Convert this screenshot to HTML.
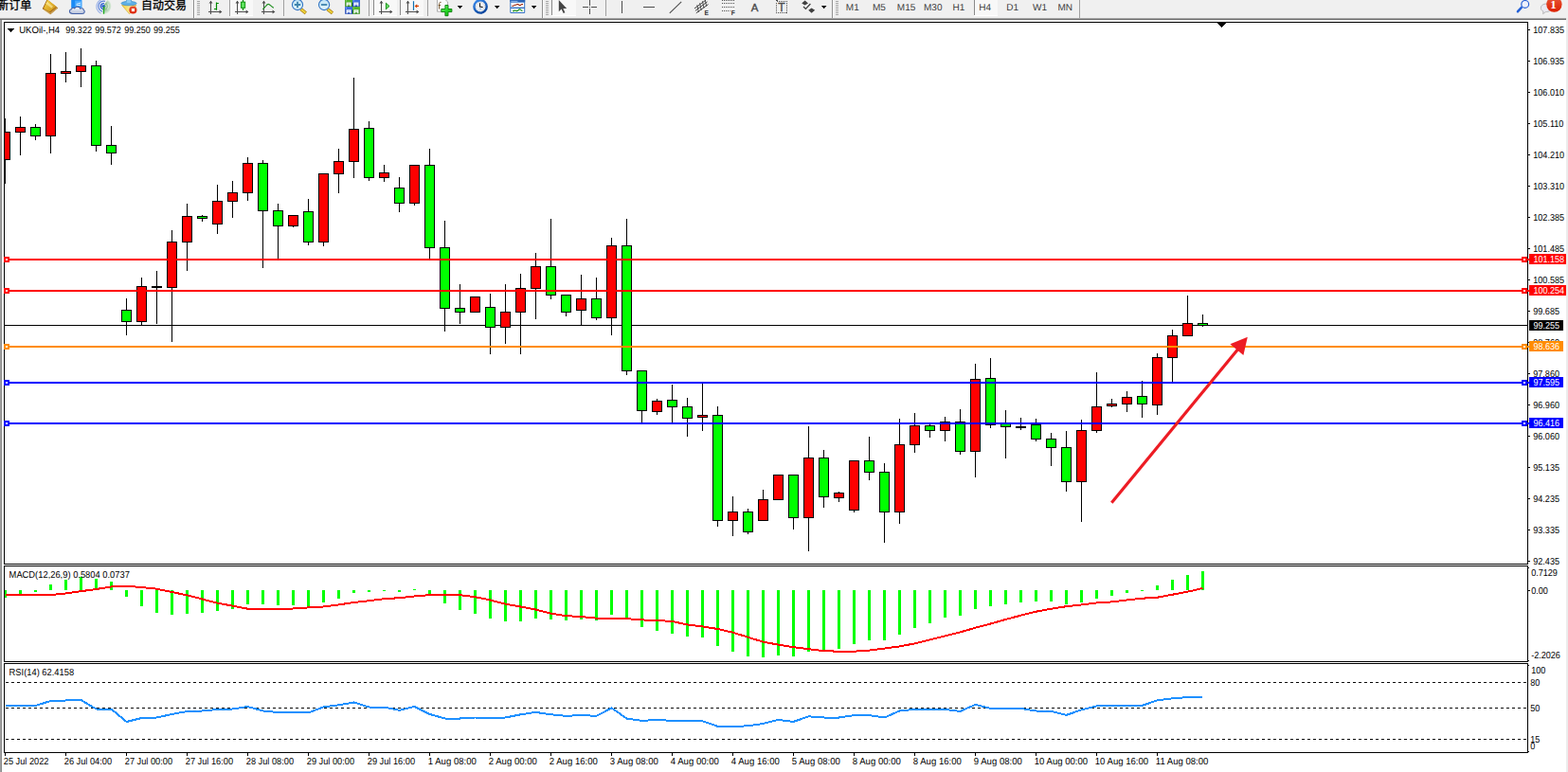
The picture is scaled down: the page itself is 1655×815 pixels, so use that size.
<!DOCTYPE html>
<html><head><meta charset="utf-8"><title>UKOil-,H4</title>
<style>
html,body{margin:0;padding:0;background:#fff;}
body{width:1655px;height:815px;overflow:hidden;position:relative;font-family:"Liberation Sans",sans-serif;}
#tb{position:absolute;left:0;top:0;width:1655px;height:19px;background:#f0f0f0;}
#sh{position:absolute;left:0;top:18px;width:1653px;height:3px;background:linear-gradient(#eeeeee 0,#eeeeee 33.3%,#a6a6a6 33.3%,#a6a6a6 66.6%,#6b6b6b 66.6%);}
#lb{position:absolute;left:0;top:21px;width:2px;height:794px;background:linear-gradient(90deg,#ababab,#808080);}
#rb{position:absolute;left:1653px;top:19px;width:2px;height:796px;background:#ececec;}
svg{position:absolute;left:0;top:0;}
.t{font-family:"Liberation Sans",sans-serif;font-size:10.1px;text-rendering:geometricPrecision;}
</style></head>
<body>
<div id="tb"></div><div id="sh"></div><div id="lb"></div><div id="rb"></div>
<svg width="1655" height="815" viewBox="0 0 1655 815" shape-rendering="crispEdges">
<rect x="4" y="23" width="1609" height="1" fill="#000"/>
<rect x="4" y="595" width="1609" height="1" fill="#000"/>
<rect x="4" y="597" width="1609" height="1" fill="#000"/>
<rect x="4" y="698" width="1609" height="1" fill="#000"/>
<rect x="4" y="700" width="1609" height="1" fill="#000"/>
<rect x="4" y="794" width="1609" height="1" fill="#000"/>
<rect x="4" y="23" width="1" height="573" fill="#000"/>
<rect x="1612" y="23" width="1" height="573" fill="#000"/>
<rect x="4" y="597" width="1" height="102" fill="#000"/>
<rect x="1612" y="597" width="1" height="102" fill="#000"/>
<rect x="4" y="700" width="1" height="95" fill="#000"/>
<rect x="1612" y="700" width="1" height="95" fill="#000"/>
<rect x="1285" y="24" width="9" height="1" fill="#000"/>
<rect x="1286" y="25" width="7" height="1" fill="#000"/>
<rect x="1287" y="26" width="5" height="1" fill="#000"/>
<rect x="1288" y="27" width="3" height="1" fill="#000"/>
<rect x="1289" y="28" width="1" height="1" fill="#000"/>
<rect x="5" y="343" width="1607" height="1" fill="#000"/>
<rect x="5" y="125" width="1" height="69" fill="#000"/>
<rect x="5" y="139" width="6" height="30" fill="#000"/>
<rect x="5" y="140" width="5" height="28" fill="#ff0000"/>
<rect x="21" y="123" width="1" height="41" fill="#000"/>
<rect x="16" y="134" width="11" height="6" fill="#000"/>
<rect x="17" y="135" width="9" height="4" fill="#ff0000"/>
<rect x="37" y="131" width="1" height="17" fill="#000"/>
<rect x="32" y="134" width="11" height="10" fill="#000"/>
<rect x="33" y="135" width="9" height="8" fill="#00ff00"/>
<rect x="53" y="57" width="1" height="105" fill="#000"/>
<rect x="48" y="77" width="11" height="67" fill="#000"/>
<rect x="49" y="78" width="9" height="65" fill="#ff0000"/>
<rect x="69" y="55" width="1" height="32" fill="#000"/>
<rect x="64" y="75" width="11" height="3" fill="#000"/>
<rect x="65" y="76" width="9" height="1" fill="#ff0000"/>
<rect x="85" y="51" width="1" height="41" fill="#000"/>
<rect x="80" y="69" width="11" height="7" fill="#000"/>
<rect x="81" y="70" width="9" height="5" fill="#ff0000"/>
<rect x="101" y="64" width="1" height="96" fill="#000"/>
<rect x="96" y="69" width="11" height="85" fill="#000"/>
<rect x="97" y="70" width="9" height="83" fill="#00ff00"/>
<rect x="117" y="133" width="1" height="41" fill="#000"/>
<rect x="112" y="153" width="11" height="9" fill="#000"/>
<rect x="113" y="154" width="9" height="7" fill="#00ff00"/>
<rect x="133" y="315" width="1" height="39" fill="#000"/>
<rect x="128" y="327" width="11" height="13" fill="#000"/>
<rect x="129" y="328" width="9" height="11" fill="#00ff00"/>
<rect x="149" y="293" width="1" height="50" fill="#000"/>
<rect x="144" y="302" width="11" height="38" fill="#000"/>
<rect x="145" y="303" width="9" height="36" fill="#ff0000"/>
<rect x="165" y="286" width="1" height="56" fill="#000"/>
<rect x="160" y="302" width="11" height="2" fill="#000"/>
<rect x="181" y="243" width="1" height="118" fill="#000"/>
<rect x="176" y="255" width="11" height="49" fill="#000"/>
<rect x="177" y="256" width="9" height="47" fill="#ff0000"/>
<rect x="197" y="215" width="1" height="71" fill="#000"/>
<rect x="192" y="228" width="11" height="28" fill="#000"/>
<rect x="193" y="229" width="9" height="26" fill="#ff0000"/>
<rect x="213" y="227" width="1" height="7" fill="#000"/>
<rect x="208" y="228" width="11" height="3" fill="#000"/>
<rect x="209" y="229" width="9" height="1" fill="#00ff00"/>
<rect x="229" y="195" width="1" height="52" fill="#000"/>
<rect x="224" y="212" width="11" height="25" fill="#000"/>
<rect x="225" y="213" width="9" height="23" fill="#ff0000"/>
<rect x="245" y="191" width="1" height="39" fill="#000"/>
<rect x="240" y="203" width="11" height="10" fill="#000"/>
<rect x="241" y="204" width="9" height="8" fill="#ff0000"/>
<rect x="261" y="166" width="1" height="46" fill="#000"/>
<rect x="256" y="172" width="11" height="32" fill="#000"/>
<rect x="257" y="173" width="9" height="30" fill="#ff0000"/>
<rect x="277" y="169" width="1" height="114" fill="#000"/>
<rect x="272" y="172" width="11" height="51" fill="#000"/>
<rect x="273" y="173" width="9" height="49" fill="#00ff00"/>
<rect x="293" y="215" width="1" height="59" fill="#000"/>
<rect x="288" y="222" width="11" height="17" fill="#000"/>
<rect x="289" y="223" width="9" height="15" fill="#00ff00"/>
<rect x="309" y="227" width="1" height="13" fill="#000"/>
<rect x="304" y="227" width="11" height="12" fill="#000"/>
<rect x="305" y="228" width="9" height="10" fill="#ff0000"/>
<rect x="325" y="210" width="1" height="49" fill="#000"/>
<rect x="320" y="223" width="11" height="33" fill="#000"/>
<rect x="321" y="224" width="9" height="31" fill="#00ff00"/>
<rect x="341" y="183" width="1" height="77" fill="#000"/>
<rect x="336" y="183" width="11" height="73" fill="#000"/>
<rect x="337" y="184" width="9" height="71" fill="#ff0000"/>
<rect x="357" y="157" width="1" height="47" fill="#000"/>
<rect x="352" y="170" width="11" height="14" fill="#000"/>
<rect x="353" y="171" width="9" height="12" fill="#ff0000"/>
<rect x="373" y="82" width="1" height="106" fill="#000"/>
<rect x="368" y="136" width="11" height="35" fill="#000"/>
<rect x="369" y="137" width="9" height="33" fill="#ff0000"/>
<rect x="389" y="128" width="1" height="63" fill="#000"/>
<rect x="384" y="135" width="11" height="53" fill="#000"/>
<rect x="385" y="136" width="9" height="51" fill="#00ff00"/>
<rect x="405" y="174" width="1" height="18" fill="#000"/>
<rect x="400" y="182" width="11" height="6" fill="#000"/>
<rect x="401" y="183" width="9" height="4" fill="#ff0000"/>
<rect x="421" y="187" width="1" height="37" fill="#000"/>
<rect x="416" y="198" width="11" height="17" fill="#000"/>
<rect x="417" y="199" width="9" height="15" fill="#00ff00"/>
<rect x="437" y="174" width="1" height="43" fill="#000"/>
<rect x="432" y="174" width="11" height="41" fill="#000"/>
<rect x="433" y="175" width="9" height="39" fill="#ff0000"/>
<rect x="453" y="157" width="1" height="117" fill="#000"/>
<rect x="448" y="174" width="11" height="88" fill="#000"/>
<rect x="449" y="175" width="9" height="86" fill="#00ff00"/>
<rect x="469" y="233" width="1" height="117" fill="#000"/>
<rect x="464" y="261" width="11" height="65" fill="#000"/>
<rect x="465" y="262" width="9" height="63" fill="#00ff00"/>
<rect x="485" y="300" width="1" height="42" fill="#000"/>
<rect x="480" y="325" width="11" height="5" fill="#000"/>
<rect x="481" y="326" width="9" height="3" fill="#00ff00"/>
<rect x="501" y="313" width="1" height="17" fill="#000"/>
<rect x="496" y="313" width="11" height="17" fill="#000"/>
<rect x="497" y="314" width="9" height="15" fill="#ff0000"/>
<rect x="517" y="310" width="1" height="64" fill="#000"/>
<rect x="512" y="324" width="11" height="22" fill="#000"/>
<rect x="513" y="325" width="9" height="20" fill="#00ff00"/>
<rect x="533" y="300" width="1" height="63" fill="#000"/>
<rect x="528" y="329" width="11" height="17" fill="#000"/>
<rect x="529" y="330" width="9" height="15" fill="#ff0000"/>
<rect x="549" y="289" width="1" height="85" fill="#000"/>
<rect x="544" y="304" width="11" height="26" fill="#000"/>
<rect x="545" y="305" width="9" height="24" fill="#ff0000"/>
<rect x="565" y="267" width="1" height="70" fill="#000"/>
<rect x="560" y="281" width="11" height="24" fill="#000"/>
<rect x="561" y="282" width="9" height="22" fill="#ff0000"/>
<rect x="581" y="231" width="1" height="85" fill="#000"/>
<rect x="576" y="281" width="11" height="31" fill="#000"/>
<rect x="577" y="282" width="9" height="29" fill="#00ff00"/>
<rect x="597" y="311" width="1" height="23" fill="#000"/>
<rect x="592" y="311" width="11" height="19" fill="#000"/>
<rect x="593" y="312" width="9" height="17" fill="#00ff00"/>
<rect x="613" y="290" width="1" height="54" fill="#000"/>
<rect x="608" y="315" width="11" height="13" fill="#000"/>
<rect x="609" y="316" width="9" height="11" fill="#ff0000"/>
<rect x="629" y="293" width="1" height="45" fill="#000"/>
<rect x="624" y="315" width="11" height="21" fill="#000"/>
<rect x="625" y="316" width="9" height="19" fill="#00ff00"/>
<rect x="645" y="251" width="1" height="103" fill="#000"/>
<rect x="640" y="259" width="11" height="77" fill="#000"/>
<rect x="641" y="260" width="9" height="75" fill="#ff0000"/>
<rect x="661" y="231" width="1" height="165" fill="#000"/>
<rect x="656" y="259" width="11" height="133" fill="#000"/>
<rect x="657" y="260" width="9" height="131" fill="#00ff00"/>
<rect x="677" y="391" width="1" height="55" fill="#000"/>
<rect x="672" y="391" width="11" height="43" fill="#000"/>
<rect x="673" y="392" width="9" height="41" fill="#00ff00"/>
<rect x="693" y="421" width="1" height="17" fill="#000"/>
<rect x="688" y="423" width="11" height="12" fill="#000"/>
<rect x="689" y="424" width="9" height="10" fill="#ff0000"/>
<rect x="709" y="406" width="1" height="40" fill="#000"/>
<rect x="704" y="422" width="11" height="8" fill="#000"/>
<rect x="705" y="423" width="9" height="6" fill="#00ff00"/>
<rect x="725" y="420" width="1" height="41" fill="#000"/>
<rect x="720" y="429" width="11" height="13" fill="#000"/>
<rect x="721" y="430" width="9" height="11" fill="#00ff00"/>
<rect x="741" y="404" width="1" height="51" fill="#000"/>
<rect x="736" y="438" width="11" height="3" fill="#000"/>
<rect x="737" y="439" width="9" height="1" fill="#ff0000"/>
<rect x="757" y="429" width="1" height="127" fill="#000"/>
<rect x="752" y="438" width="11" height="112" fill="#000"/>
<rect x="753" y="439" width="9" height="110" fill="#00ff00"/>
<rect x="773" y="524" width="1" height="42" fill="#000"/>
<rect x="768" y="540" width="11" height="10" fill="#000"/>
<rect x="769" y="541" width="9" height="8" fill="#ff0000"/>
<rect x="789" y="537" width="1" height="27" fill="#000"/>
<rect x="784" y="540" width="11" height="22" fill="#000"/>
<rect x="785" y="541" width="9" height="20" fill="#00ff00"/>
<rect x="805" y="517" width="1" height="33" fill="#000"/>
<rect x="800" y="527" width="11" height="23" fill="#000"/>
<rect x="801" y="528" width="9" height="21" fill="#ff0000"/>
<rect x="821" y="501" width="1" height="27" fill="#000"/>
<rect x="816" y="501" width="11" height="27" fill="#000"/>
<rect x="817" y="502" width="9" height="25" fill="#ff0000"/>
<rect x="837" y="501" width="1" height="58" fill="#000"/>
<rect x="832" y="501" width="11" height="46" fill="#000"/>
<rect x="833" y="502" width="9" height="44" fill="#00ff00"/>
<rect x="853" y="450" width="1" height="132" fill="#000"/>
<rect x="848" y="483" width="11" height="64" fill="#000"/>
<rect x="849" y="484" width="9" height="62" fill="#ff0000"/>
<rect x="869" y="475" width="1" height="61" fill="#000"/>
<rect x="864" y="483" width="11" height="42" fill="#000"/>
<rect x="865" y="484" width="9" height="40" fill="#00ff00"/>
<rect x="885" y="519" width="1" height="11" fill="#000"/>
<rect x="880" y="520" width="11" height="6" fill="#000"/>
<rect x="881" y="521" width="9" height="4" fill="#ff0000"/>
<rect x="901" y="486" width="1" height="55" fill="#000"/>
<rect x="896" y="486" width="11" height="53" fill="#000"/>
<rect x="897" y="487" width="9" height="51" fill="#ff0000"/>
<rect x="917" y="461" width="1" height="46" fill="#000"/>
<rect x="912" y="486" width="11" height="13" fill="#000"/>
<rect x="913" y="487" width="9" height="11" fill="#00ff00"/>
<rect x="933" y="489" width="1" height="84" fill="#000"/>
<rect x="928" y="498" width="11" height="43" fill="#000"/>
<rect x="929" y="499" width="9" height="41" fill="#00ff00"/>
<rect x="949" y="442" width="1" height="111" fill="#000"/>
<rect x="944" y="469" width="11" height="72" fill="#000"/>
<rect x="945" y="470" width="9" height="70" fill="#ff0000"/>
<rect x="965" y="436" width="1" height="42" fill="#000"/>
<rect x="960" y="449" width="11" height="21" fill="#000"/>
<rect x="961" y="450" width="9" height="19" fill="#ff0000"/>
<rect x="981" y="448" width="1" height="14" fill="#000"/>
<rect x="976" y="449" width="11" height="6" fill="#000"/>
<rect x="977" y="450" width="9" height="4" fill="#00ff00"/>
<rect x="997" y="440" width="1" height="26" fill="#000"/>
<rect x="992" y="445" width="11" height="10" fill="#000"/>
<rect x="993" y="446" width="9" height="8" fill="#ff0000"/>
<rect x="1013" y="432" width="1" height="48" fill="#000"/>
<rect x="1008" y="445" width="11" height="32" fill="#000"/>
<rect x="1009" y="446" width="9" height="30" fill="#00ff00"/>
<rect x="1029" y="384" width="1" height="120" fill="#000"/>
<rect x="1024" y="400" width="11" height="77" fill="#000"/>
<rect x="1025" y="401" width="9" height="75" fill="#ff0000"/>
<rect x="1045" y="378" width="1" height="74" fill="#000"/>
<rect x="1040" y="399" width="11" height="50" fill="#000"/>
<rect x="1041" y="400" width="9" height="48" fill="#00ff00"/>
<rect x="1061" y="433" width="1" height="51" fill="#000"/>
<rect x="1056" y="447" width="11" height="4" fill="#000"/>
<rect x="1057" y="448" width="9" height="2" fill="#00ff00"/>
<rect x="1077" y="441" width="1" height="13" fill="#000"/>
<rect x="1072" y="450" width="11" height="2" fill="#000"/>
<rect x="1093" y="442" width="1" height="24" fill="#000"/>
<rect x="1088" y="448" width="11" height="16" fill="#000"/>
<rect x="1089" y="449" width="9" height="14" fill="#00ff00"/>
<rect x="1109" y="457" width="1" height="35" fill="#000"/>
<rect x="1104" y="463" width="11" height="10" fill="#000"/>
<rect x="1105" y="464" width="9" height="8" fill="#00ff00"/>
<rect x="1125" y="455" width="1" height="64" fill="#000"/>
<rect x="1120" y="472" width="11" height="37" fill="#000"/>
<rect x="1121" y="473" width="9" height="35" fill="#00ff00"/>
<rect x="1141" y="443" width="1" height="108" fill="#000"/>
<rect x="1136" y="454" width="11" height="55" fill="#000"/>
<rect x="1137" y="455" width="9" height="53" fill="#ff0000"/>
<rect x="1157" y="393" width="1" height="64" fill="#000"/>
<rect x="1152" y="429" width="11" height="26" fill="#000"/>
<rect x="1153" y="430" width="9" height="24" fill="#ff0000"/>
<rect x="1173" y="421" width="1" height="9" fill="#000"/>
<rect x="1168" y="426" width="11" height="3" fill="#000"/>
<rect x="1169" y="427" width="9" height="1" fill="#ff0000"/>
<rect x="1189" y="413" width="1" height="22" fill="#000"/>
<rect x="1184" y="419" width="11" height="8" fill="#000"/>
<rect x="1185" y="420" width="9" height="6" fill="#ff0000"/>
<rect x="1205" y="402" width="1" height="39" fill="#000"/>
<rect x="1200" y="418" width="11" height="9" fill="#000"/>
<rect x="1201" y="419" width="9" height="7" fill="#00ff00"/>
<rect x="1221" y="373" width="1" height="65" fill="#000"/>
<rect x="1216" y="377" width="11" height="51" fill="#000"/>
<rect x="1217" y="378" width="9" height="49" fill="#ff0000"/>
<rect x="1237" y="348" width="1" height="55" fill="#000"/>
<rect x="1232" y="354" width="11" height="24" fill="#000"/>
<rect x="1233" y="355" width="9" height="22" fill="#ff0000"/>
<rect x="1253" y="312" width="1" height="43" fill="#000"/>
<rect x="1248" y="341" width="11" height="14" fill="#000"/>
<rect x="1249" y="342" width="9" height="12" fill="#ff0000"/>
<rect x="1269" y="332" width="1" height="13" fill="#000"/>
<rect x="1264" y="341" width="11" height="3" fill="#000"/>
<rect x="1265" y="342" width="9" height="1" fill="#00ff00"/>
<rect x="5" y="273" width="1609" height="2" fill="#ff0000"/>
<rect x="4" y="271" width="6" height="6" fill="#ff0000"/>
<rect x="6" y="273" width="2" height="2" fill="#fff"/>
<rect x="1606" y="271" width="6" height="6" fill="#ff0000"/>
<rect x="1608" y="273" width="2" height="2" fill="#fff"/>
<rect x="5" y="306" width="1609" height="2" fill="#ff0000"/>
<rect x="4" y="304" width="6" height="6" fill="#ff0000"/>
<rect x="6" y="306" width="2" height="2" fill="#fff"/>
<rect x="1606" y="304" width="6" height="6" fill="#ff0000"/>
<rect x="1608" y="306" width="2" height="2" fill="#fff"/>
<rect x="5" y="365" width="1609" height="2" fill="#ff8c00"/>
<rect x="4" y="363" width="6" height="6" fill="#ff8c00"/>
<rect x="6" y="365" width="2" height="2" fill="#fff"/>
<rect x="1606" y="363" width="6" height="6" fill="#ff8c00"/>
<rect x="1608" y="365" width="2" height="2" fill="#fff"/>
<rect x="5" y="403" width="1609" height="2" fill="#0000ff"/>
<rect x="4" y="401" width="6" height="6" fill="#0000ff"/>
<rect x="6" y="403" width="2" height="2" fill="#fff"/>
<rect x="1606" y="401" width="6" height="6" fill="#0000ff"/>
<rect x="1608" y="403" width="2" height="2" fill="#fff"/>
<rect x="5" y="446" width="1609" height="2" fill="#0000ff"/>
<rect x="4" y="444" width="6" height="6" fill="#0000ff"/>
<rect x="6" y="446" width="2" height="2" fill="#fff"/>
<rect x="1606" y="444" width="6" height="6" fill="#0000ff"/>
<rect x="1608" y="446" width="2" height="2" fill="#fff"/>
<g shape-rendering="geometricPrecision"><path d="M1173.3 530.8L1307 368.2" stroke="#ed1c24" stroke-width="3.2" fill="none"/><path d="M1316.8 355.8L1298.4 363.2L1312.4 375Z" fill="#ed1c24"/></g>
<rect x="1613" y="31" width="2" height="1" fill="#000"/>
<rect x="1613" y="64" width="2" height="1" fill="#000"/>
<rect x="1613" y="97" width="2" height="1" fill="#000"/>
<rect x="1613" y="130" width="2" height="1" fill="#000"/>
<rect x="1613" y="163" width="2" height="1" fill="#000"/>
<rect x="1613" y="196" width="2" height="1" fill="#000"/>
<rect x="1613" y="229" width="2" height="1" fill="#000"/>
<rect x="1613" y="262" width="2" height="1" fill="#000"/>
<rect x="1613" y="295" width="2" height="1" fill="#000"/>
<rect x="1613" y="328" width="2" height="1" fill="#000"/>
<rect x="1613" y="361" width="2" height="1" fill="#000"/>
<rect x="1613" y="394" width="2" height="1" fill="#000"/>
<rect x="1613" y="427" width="2" height="1" fill="#000"/>
<rect x="1613" y="460" width="2" height="1" fill="#000"/>
<rect x="1613" y="493" width="2" height="1" fill="#000"/>
<rect x="1613" y="526" width="2" height="1" fill="#000"/>
<rect x="1613" y="559" width="2" height="1" fill="#000"/>
<rect x="1613" y="592" width="2" height="1" fill="#000"/>
<rect x="5" y="623" width="2" height="8" fill="#00ff00"/>
<rect x="20" y="623" width="3" height="4" fill="#00ff00"/>
<rect x="36" y="623" width="3" height="2" fill="#00ff00"/>
<rect x="52" y="617" width="3" height="6" fill="#00ff00"/>
<rect x="68" y="612" width="3" height="11" fill="#00ff00"/>
<rect x="84" y="609" width="3" height="14" fill="#00ff00"/>
<rect x="100" y="611" width="3" height="12" fill="#00ff00"/>
<rect x="116" y="614" width="3" height="9" fill="#00ff00"/>
<rect x="132" y="623" width="3" height="7" fill="#00ff00"/>
<rect x="148" y="623" width="3" height="17" fill="#00ff00"/>
<rect x="164" y="623" width="3" height="24" fill="#00ff00"/>
<rect x="180" y="623" width="3" height="26" fill="#00ff00"/>
<rect x="196" y="623" width="3" height="25" fill="#00ff00"/>
<rect x="212" y="623" width="3" height="24" fill="#00ff00"/>
<rect x="228" y="623" width="3" height="22" fill="#00ff00"/>
<rect x="244" y="623" width="3" height="20" fill="#00ff00"/>
<rect x="260" y="623" width="3" height="15" fill="#00ff00"/>
<rect x="276" y="623" width="3" height="15" fill="#00ff00"/>
<rect x="292" y="623" width="3" height="16" fill="#00ff00"/>
<rect x="308" y="623" width="3" height="16" fill="#00ff00"/>
<rect x="324" y="623" width="3" height="18" fill="#00ff00"/>
<rect x="340" y="623" width="3" height="13" fill="#00ff00"/>
<rect x="356" y="623" width="3" height="9" fill="#00ff00"/>
<rect x="372" y="623" width="3" height="3" fill="#00ff00"/>
<rect x="388" y="623" width="3" height="2" fill="#00ff00"/>
<rect x="404" y="623" width="3" height="1" fill="#00ff00"/>
<rect x="420" y="623" width="3" height="2" fill="#00ff00"/>
<rect x="436" y="622" width="3" height="1" fill="#00ff00"/>
<rect x="452" y="623" width="3" height="5" fill="#00ff00"/>
<rect x="468" y="623" width="3" height="14" fill="#00ff00"/>
<rect x="484" y="623" width="3" height="21" fill="#00ff00"/>
<rect x="500" y="623" width="3" height="25" fill="#00ff00"/>
<rect x="516" y="623" width="3" height="30" fill="#00ff00"/>
<rect x="532" y="623" width="3" height="33" fill="#00ff00"/>
<rect x="548" y="623" width="3" height="33" fill="#00ff00"/>
<rect x="564" y="623" width="3" height="30" fill="#00ff00"/>
<rect x="580" y="623" width="3" height="31" fill="#00ff00"/>
<rect x="596" y="623" width="3" height="32" fill="#00ff00"/>
<rect x="612" y="623" width="3" height="31" fill="#00ff00"/>
<rect x="628" y="623" width="3" height="32" fill="#00ff00"/>
<rect x="644" y="623" width="3" height="26" fill="#00ff00"/>
<rect x="660" y="623" width="3" height="31" fill="#00ff00"/>
<rect x="676" y="623" width="3" height="39" fill="#00ff00"/>
<rect x="692" y="623" width="3" height="43" fill="#00ff00"/>
<rect x="708" y="623" width="3" height="46" fill="#00ff00"/>
<rect x="724" y="623" width="3" height="49" fill="#00ff00"/>
<rect x="740" y="623" width="3" height="50" fill="#00ff00"/>
<rect x="756" y="623" width="3" height="59" fill="#00ff00"/>
<rect x="772" y="623" width="3" height="65" fill="#00ff00"/>
<rect x="788" y="623" width="3" height="70" fill="#00ff00"/>
<rect x="804" y="623" width="3" height="71" fill="#00ff00"/>
<rect x="820" y="623" width="3" height="69" fill="#00ff00"/>
<rect x="836" y="623" width="3" height="70" fill="#00ff00"/>
<rect x="852" y="623" width="3" height="65" fill="#00ff00"/>
<rect x="868" y="623" width="3" height="64" fill="#00ff00"/>
<rect x="884" y="623" width="3" height="62" fill="#00ff00"/>
<rect x="900" y="623" width="3" height="57" fill="#00ff00"/>
<rect x="916" y="623" width="3" height="53" fill="#00ff00"/>
<rect x="932" y="623" width="3" height="53" fill="#00ff00"/>
<rect x="948" y="623" width="3" height="47" fill="#00ff00"/>
<rect x="964" y="623" width="3" height="40" fill="#00ff00"/>
<rect x="980" y="623" width="3" height="35" fill="#00ff00"/>
<rect x="996" y="623" width="3" height="29" fill="#00ff00"/>
<rect x="1012" y="623" width="3" height="27" fill="#00ff00"/>
<rect x="1028" y="623" width="3" height="20" fill="#00ff00"/>
<rect x="1044" y="623" width="3" height="17" fill="#00ff00"/>
<rect x="1060" y="623" width="3" height="15" fill="#00ff00"/>
<rect x="1076" y="623" width="3" height="13" fill="#00ff00"/>
<rect x="1092" y="623" width="3" height="12" fill="#00ff00"/>
<rect x="1108" y="623" width="3" height="12" fill="#00ff00"/>
<rect x="1124" y="623" width="3" height="15" fill="#00ff00"/>
<rect x="1140" y="623" width="3" height="13" fill="#00ff00"/>
<rect x="1156" y="623" width="3" height="9" fill="#00ff00"/>
<rect x="1172" y="623" width="3" height="6" fill="#00ff00"/>
<rect x="1188" y="623" width="3" height="3" fill="#00ff00"/>
<rect x="1204" y="623" width="3" height="1" fill="#00ff00"/>
<rect x="1220" y="618" width="3" height="5" fill="#00ff00"/>
<rect x="1236" y="612" width="3" height="11" fill="#00ff00"/>
<rect x="1252" y="607" width="3" height="16" fill="#00ff00"/>
<rect x="1268" y="603" width="3" height="20" fill="#00ff00"/>
<polyline points="5.5,628 21.5,628 37.5,628 53.5,628 69.5,626.5 85.5,624.2 101.5,622 117.5,619.4 133.5,618.7 149.5,620 165.5,621.7 181.5,625 197.5,628.4 213.5,632.5 229.5,636.7 245.5,639.6 261.5,642.7 277.5,643 293.5,643 309.5,642.5 325.5,641.4 341.5,640.5 357.5,638.4 373.5,636 389.5,634.2 405.5,632.2 421.5,631.2 437.5,629.4 453.5,628.2 469.5,627.7 485.5,628.2 501.5,630.2 517.5,633.5 533.5,637.7 549.5,640.5 565.5,643.5 581.5,647.7 597.5,650.2 613.5,651 629.5,652.7 645.5,652.9 661.5,653.2 677.5,654.4 693.5,655 709.5,656 725.5,659.4 741.5,661.4 757.5,664 773.5,667.7 789.5,672.7 805.5,677.7 821.5,680.6 837.5,683.2 853.5,685.2 869.5,687.2 885.5,687.7 901.5,687.7 917.5,686.6 933.5,684.6 949.5,682.4 965.5,679.4 981.5,675.4 997.5,671.4 1013.5,667.4 1029.5,662.7 1045.5,658.5 1061.5,653.9 1077.5,649.7 1093.5,645.7 1109.5,642.7 1125.5,640.2 1141.5,638.4 1157.5,636.5 1173.5,635.4 1189.5,633.5 1205.5,631.7 1221.5,630.7 1237.5,627.7 1253.5,624.7 1269.5,621" fill="none" stroke="#ff0000" stroke-width="2" stroke-linejoin="round"/>
<rect x="1613" y="599" width="1" height="1" fill="#000"/>
<rect x="1613" y="623" width="2" height="1" fill="#000"/>
<rect x="1613" y="697" width="1" height="1" fill="#000"/>
<path d="M6 720.5H1612" stroke="#000" stroke-width="1" stroke-dasharray="3 3" fill="none"/>
<path d="M6 747.5H1612" stroke="#000" stroke-width="1" stroke-dasharray="3 3" fill="none"/>
<path d="M6 780.5H1612" stroke="#000" stroke-width="1" stroke-dasharray="3 3" fill="none"/>
<polyline points="5.5,745 21.5,745 37.5,745 53.5,740 69.5,739.5 85.5,739 101.5,748.5 117.5,748.5 133.5,762 149.5,758 165.5,757.5 181.5,754 197.5,751 213.5,750.5 229.5,749 245.5,748.5 261.5,746 277.5,750.5 293.5,752 309.5,752 325.5,752.5 341.5,746.3 357.5,744.3 373.5,741.5 389.5,746.5 405.5,746.5 421.5,749.9 437.5,745.9 453.5,753.9 469.5,758.5 485.5,758.5 501.5,757.5 517.5,758.5 533.5,757.5 549.5,754.3 565.5,751.9 581.5,754.3 597.5,755.9 613.5,754.9 629.5,755.9 645.5,747.4 661.5,758.5 677.5,760.9 693.5,759.9 709.5,760.9 725.5,760.9 741.5,761.3 757.5,766.8 773.5,766.8 789.5,766.4 805.5,763.9 821.5,759.9 837.5,761.9 853.5,756.3 869.5,757.5 885.5,757.5 901.5,755.1 917.5,755.1 933.5,757.5 949.5,750.5 965.5,748.9 981.5,748.9 997.5,748.9 1013.5,750.9 1029.5,743.9 1045.5,747.9 1061.5,747.9 1077.5,747.9 1093.5,750.5 1109.5,750.9 1125.5,754.9 1141.5,749.3 1157.5,745.3 1173.5,744.9 1189.5,744.9 1205.5,744.9 1221.5,739.3 1237.5,737.3 1253.5,736.1 1269.5,735.5" fill="none" stroke="#1e90ff" stroke-width="2" stroke-linejoin="round"/>
<rect x="1613" y="702" width="1" height="1" fill="#000"/>
<rect x="1613" y="793" width="1" height="1" fill="#000"/>
<rect x="5" y="795" width="1" height="3" fill="#000"/>
<rect x="69" y="795" width="1" height="3" fill="#000"/>
<rect x="133" y="795" width="1" height="3" fill="#000"/>
<rect x="197" y="795" width="1" height="3" fill="#000"/>
<rect x="261" y="795" width="1" height="3" fill="#000"/>
<rect x="325" y="795" width="1" height="3" fill="#000"/>
<rect x="389" y="795" width="1" height="3" fill="#000"/>
<rect x="453" y="795" width="1" height="3" fill="#000"/>
<rect x="517" y="795" width="1" height="3" fill="#000"/>
<rect x="581" y="795" width="1" height="3" fill="#000"/>
<rect x="645" y="795" width="1" height="3" fill="#000"/>
<rect x="709" y="795" width="1" height="3" fill="#000"/>
<rect x="773" y="795" width="1" height="3" fill="#000"/>
<rect x="837" y="795" width="1" height="3" fill="#000"/>
<rect x="901" y="795" width="1" height="3" fill="#000"/>
<rect x="965" y="795" width="1" height="3" fill="#000"/>
<rect x="1029" y="795" width="1" height="3" fill="#000"/>
<rect x="1093" y="795" width="1" height="3" fill="#000"/>
<rect x="1157" y="795" width="1" height="3" fill="#000"/>
<rect x="1221" y="795" width="1" height="3" fill="#000"/>
<rect x="8" y="30" width="7" height="1" fill="#000"/>
<rect x="9" y="31" width="5" height="1" fill="#000"/>
<rect x="10" y="32" width="3" height="1" fill="#000"/>
<rect x="11" y="33" width="1" height="1" fill="#000"/>
<g shape-rendering="auto">
<text class="t" transform="matrix(0.896 0 0 1 1618.3 35)">107.835</text>
<text class="t" transform="matrix(0.896 0 0 1 1618.3 68)">106.935</text>
<text class="t" transform="matrix(0.896 0 0 1 1618.3 101)">106.010</text>
<text class="t" transform="matrix(0.896 0 0 1 1618.3 134)">105.110</text>
<text class="t" transform="matrix(0.896 0 0 1 1618.3 167)">104.210</text>
<text class="t" transform="matrix(0.896 0 0 1 1618.3 200)">103.310</text>
<text class="t" transform="matrix(0.896 0 0 1 1618.3 233)">102.385</text>
<text class="t" transform="matrix(0.896 0 0 1 1618.3 266)">101.485</text>
<text class="t" transform="matrix(0.896 0 0 1 1618.3 299)">100.585</text>
<text class="t" transform="matrix(0.896 0 0 1 1618.3 332)">99.685</text>
<text class="t" transform="matrix(0.896 0 0 1 1618.3 365)">98.760</text>
<text class="t" transform="matrix(0.896 0 0 1 1618.3 398)">97.860</text>
<text class="t" transform="matrix(0.896 0 0 1 1618.3 431)">96.960</text>
<text class="t" transform="matrix(0.896 0 0 1 1618.3 464)">96.060</text>
<text class="t" transform="matrix(0.896 0 0 1 1618.3 497)">95.135</text>
<text class="t" transform="matrix(0.896 0 0 1 1618.3 530)">94.235</text>
<text class="t" transform="matrix(0.896 0 0 1 1618.3 563)">93.335</text>
<text class="t" transform="matrix(0.896 0 0 1 1618.3 596)">92.435</text>
<rect x="1614" y="338" width="36" height="11" fill="#000" shape-rendering="crispEdges"/>
<rect x="1614" y="268" width="39" height="11" fill="#ff0000" shape-rendering="crispEdges"/>
<rect x="1614" y="301" width="39" height="11" fill="#ff0000" shape-rendering="crispEdges"/>
<rect x="1614" y="360" width="36" height="11" fill="#ff8c00" shape-rendering="crispEdges"/>
<rect x="1614" y="398" width="36" height="11" fill="#0000ff" shape-rendering="crispEdges"/>
<rect x="1614" y="441" width="36" height="11" fill="#0000ff" shape-rendering="crispEdges"/>
<text class="t" transform="matrix(0.896 0 0 1 1618.4 347)" fill="#fff">99.255</text>
<text class="t" transform="matrix(0.896 0 0 1 1618.4 277)" fill="#fff">101.158</text>
<text class="t" transform="matrix(0.896 0 0 1 1618.4 310)" fill="#fff">100.254</text>
<text class="t" transform="matrix(0.896 0 0 1 1618.4 369)" fill="#fff">98.636</text>
<text class="t" transform="matrix(0.896 0 0 1 1618.4 407)" fill="#fff">97.595</text>
<text class="t" transform="matrix(0.896 0 0 1 1618.4 450)" fill="#fff">96.416</text>
<text class="t" transform="matrix(0.896 0 0 1 1616.2 608)">0.7129</text>
<text class="t" transform="matrix(0.896 0 0 1 1616.2 627)">0.00</text>
<text class="t" transform="matrix(0.896 0 0 1 1616.2 695)">-2.2026</text>
<text class="t" transform="matrix(0.896 0 0 1 1616.3 711)">100</text>
<text class="t" transform="matrix(0.896 0 0 1 1615.3 724)">80</text>
<text class="t" transform="matrix(0.896 0 0 1 1615.3 751)">50</text>
<text class="t" transform="matrix(0.896 0 0 1 1615.3 784)">15</text>
<text class="t" transform="matrix(0.896 0 0 1 1615.3 791)">0</text>
<text class="t" transform="matrix(0.913 0 0 1 3.8 807)">25 Jul 2022</text>
<text class="t" transform="matrix(0.913 0 0 1 67.8 807)">26 Jul 04:00</text>
<text class="t" transform="matrix(0.913 0 0 1 131.8 807)">27 Jul 00:00</text>
<text class="t" transform="matrix(0.913 0 0 1 195.8 807)">27 Jul 16:00</text>
<text class="t" transform="matrix(0.913 0 0 1 259.8 807)">28 Jul 08:00</text>
<text class="t" transform="matrix(0.913 0 0 1 323.8 807)">29 Jul 00:00</text>
<text class="t" transform="matrix(0.913 0 0 1 387.8 807)">29 Jul 16:00</text>
<text class="t" transform="matrix(0.946 0 0 1 451.8 807)">1 Aug 08:00</text>
<text class="t" transform="matrix(0.946 0 0 1 515.8 807)">2 Aug 00:00</text>
<text class="t" transform="matrix(0.946 0 0 1 579.8 807)">2 Aug 16:00</text>
<text class="t" transform="matrix(0.946 0 0 1 643.8 807)">3 Aug 08:00</text>
<text class="t" transform="matrix(0.946 0 0 1 707.8 807)">4 Aug 00:00</text>
<text class="t" transform="matrix(0.946 0 0 1 771.8 807)">4 Aug 16:00</text>
<text class="t" transform="matrix(0.946 0 0 1 835.8 807)">5 Aug 08:00</text>
<text class="t" transform="matrix(0.946 0 0 1 899.8 807)">8 Aug 00:00</text>
<text class="t" transform="matrix(0.946 0 0 1 963.8 807)">8 Aug 16:00</text>
<text class="t" transform="matrix(0.946 0 0 1 1027.8 807)">9 Aug 08:00</text>
<text class="t" transform="matrix(0.946 0 0 1 1091.8 807)">10 Aug 00:00</text>
<text class="t" transform="matrix(0.946 0 0 1 1155.8 807)">10 Aug 16:00</text>
<text class="t" transform="matrix(0.946 0 0 1 1219.8 807)">11 Aug 08:00</text>
<text class="t" transform="matrix(0.946 0 0 1 20.2 35)">UKOil-,H4</text>
<text class="t" transform="matrix(0.896 0 0 1 69.3 35)">99.322</text>
<text class="t" transform="matrix(0.896 0 0 1 100.22999999999999 35)">99.572</text>
<text class="t" transform="matrix(0.896 0 0 1 131.16 35)">99.250</text>
<text class="t" transform="matrix(0.896 0 0 1 162.08999999999997 35)">99.255</text>
<text class="t" transform="matrix(0.926 0 0 1 9.6 610.4)">MACD(12,26,9) 0.5804 0.0737</text>
<text class="t" transform="matrix(0.925 0 0 1 9.6 713.2)">RSI(14) 62.4158</text>

</g>
</svg>
<svg width="1655" height="19" viewBox="0 0 1655 19" style="overflow:hidden">
<text x="-2.8" y="9.5" font-family="'Liberation Sans','Noto Sans CJK SC',sans-serif" font-size="12" fill="#000" stroke="#000" stroke-width="0.3">新订单</text>
<defs><linearGradient id="gd" x1="0" y1="0" x2="1" y2="1"><stop offset="0" stop-color="#f9d84a"/><stop offset="1" stop-color="#c98a12"/></linearGradient><linearGradient id="bl" x1="0" y1="0" x2="0" y2="1"><stop offset="0" stop-color="#49a6f5"/><stop offset="1" stop-color="#1565c8"/></linearGradient><linearGradient id="rd" x1="0" y1="0" x2="0" y2="1"><stop offset="0" stop-color="#e8583a"/><stop offset="1" stop-color="#dc2000"/></linearGradient><linearGradient id="lens" x1="0" y1="0" x2="0" y2="1"><stop offset="0" stop-color="#bfe3f5"/><stop offset="1" stop-color="#e4f5fb"/></linearGradient><linearGradient id="gp" x1="0" y1="0" x2="1" y2="1"><stop offset="0" stop-color="#7df57d"/><stop offset="0.5" stop-color="#27d827"/><stop offset="1" stop-color="#0fae0f"/></linearGradient></defs>
<path d="M49.6 -0.6L61.2 8.4L53.2 15.2L44.8 9.2Z" fill="#9c5c08"/><path d="M50.2 -0.4L59.6 6.9L52.4 12.6L46 8.9Z" fill="url(#gd)"/><path d="M49 2.8L55.2 7.8" stroke="#fdf2b0" stroke-width="2.4" opacity="0.6"/><path d="M46.4 10.1L52.9 13.6L60.4 7.8M46.6 11L53 14.6L60.6 8.8" fill="none" stroke="#f0d890" stroke-width="0.55"/>
<path d="M75.2 -0.5H86.3V8.6H75.2Z" fill="#1b8af5"/><path d="M79.2 0.6H86.3V8.6H79.2Z" fill="#4aaaff"/><path d="M80.6 4.3L85.2 3.1M80.6 5.7L85.2 5.3" stroke="#eaf5ff" stroke-width="0.9"/><defs><linearGradient id="cl" x1="0" y1="0" x2="0" y2="1"><stop offset="0" stop-color="#fdfdff"/><stop offset="1" stop-color="#b4bfd8"/></linearGradient></defs><path d="M76.6 14.4C72.6 14.4 72.4 10 75.6 9.7C75.8 8.2 78 7.9 78.8 8.8C79.8 6.4 84.2 6.6 84.8 9.2C86.4 8 88.6 9.2 88.2 10.8C90 11.6 89.6 14.4 86.8 14.4Z" fill="url(#cl)" stroke="#4563a8" stroke-width="1.05"/>
<defs><radialGradient id="sg" cx="0" cy="0" r="1" gradientUnits="userSpaceOnUse" gradientTransform="translate(109 6.6) scale(8.2)"><stop offset="0" stop-color="#4f9a55"/><stop offset="1" stop-color="#d9ead9"/></radialGradient></defs><path d="M109 6.6L109.2 14.8A8.2 8.2 0 0 0 113.6 -0.2Z" fill="url(#sg)"/><g fill="none" stroke-width="1.25"><path d="M110 3.7A3 3 0 1 0 109 9.6" stroke="#2f5fd0"/><path d="M111 1.3A5.6 5.6 0 0 0 108 12.1" stroke="#5a82dc"/><path d="M112 -0.8A8 8 0 0 0 106.6 14.2" stroke="#a3b8e8"/><path d="M111.6 5A3 3 0 0 1 111.4 8.6" stroke="#eef5ee" stroke-width="0.8"/><path d="M113.8 3.6A5.6 5.6 0 0 1 113.6 9.8" stroke="#eef5ee" stroke-width="0.8"/></g><circle cx="109" cy="6.6" r="1.7" fill="#2a5fd0"/><path d="M109.5 7V14.7" stroke="#1fa81f" stroke-width="1.4"/>
<defs><linearGradient id="yl" x1="0" y1="0" x2="1" y2="0"><stop offset="0" stop-color="#f4cf3a"/><stop offset="0.6" stop-color="#fdec9a"/><stop offset="1" stop-color="#f1c93a"/></linearGradient></defs><path d="M128.6 5.4H143.8L136.6 14.8Z" fill="url(#yl)" stroke="#d0a52a" stroke-width="0.6"/><path d="M127.9 3.6C128.6 6.6 143.6 6.6 144.2 3.6C143.8 2 140.4 1.8 139 1.6L137.8 -1H134.2L133.2 1.6C131.8 1.8 128.4 2 127.9 3.6Z" fill="#5fb0e6" stroke="#3384c4" stroke-width="0.6"/><path d="M134.6 -1L133.6 2.4C135 3.2 137 3.2 138.4 2.4L137.4 -1Z" fill="#8ccaf2"/><circle cx="140.4" cy="10.5" r="4.1" fill="url(#rd)"/><rect x="138.9" y="9" width="3.1" height="3.1" fill="#fff"/>
<text x="149" y="9.8" font-family="'Liberation Sans','Noto Sans CJK SC',sans-serif" font-size="12" fill="#000" stroke="#000" stroke-width="0.3">自动交易</text>
<rect x="204" y="0" width="1" height="19" fill="#8f8f8f" shape-rendering="crispEdges"/><rect x="205" y="0" width="1" height="19" fill="#ffffff" shape-rendering="crispEdges"/>
<rect x="208" y="1" width="3" height="1" fill="#a6a6a6" shape-rendering="crispEdges"/>
<rect x="208" y="3" width="3" height="1" fill="#a6a6a6" shape-rendering="crispEdges"/>
<rect x="208" y="5" width="3" height="1" fill="#a6a6a6" shape-rendering="crispEdges"/>
<rect x="208" y="7" width="3" height="1" fill="#a6a6a6" shape-rendering="crispEdges"/>
<rect x="208" y="9" width="3" height="1" fill="#a6a6a6" shape-rendering="crispEdges"/>
<rect x="208" y="11" width="3" height="1" fill="#a6a6a6" shape-rendering="crispEdges"/>
<rect x="208" y="13" width="3" height="1" fill="#a6a6a6" shape-rendering="crispEdges"/>
<rect x="208" y="15" width="3" height="1" fill="#a6a6a6" shape-rendering="crispEdges"/>
<g fill="#4d4d4d" shape-rendering="crispEdges"><rect x="222" y="1" width="1" height="14"/><rect x="220" y="12" width="14" height="1"/></g><path d="M220.5 3.6L222.5 0.8L224.5 3.6Z M231.6 10.5L234.4 12.5L231.6 14.5Z" fill="#4d4d4d"/>
<path d="M228.5 2.4V10.8M228.5 3.5H230.8M226 9.5H228.5" stroke="#008a00" stroke-width="1.2" fill="none"/>
<rect x="242" y="0" width="1" height="17" fill="#a0a0a0" shape-rendering="crispEdges"/>
<rect x="243" y="0" width="24" height="17" fill="#f8f8f8" shape-rendering="crispEdges"/><rect x="243" y="16" width="24" height="1" fill="#ffffff" shape-rendering="crispEdges"/>
<g fill="#4d4d4d" shape-rendering="crispEdges"><rect x="250" y="1" width="1" height="14"/><rect x="248" y="12" width="14" height="1"/></g><path d="M248.5 3.6L250.5 0.8L252.5 3.6Z M259.6 10.5L262.4 12.5L259.6 14.5Z" fill="#4d4d4d"/>
<path d="M256.5 0V11" stroke="#008000" stroke-width="1.1"/><rect x="254.4" y="2.1" width="4.3" height="6.2" fill="#5fe35f" stroke="#008a00" stroke-width="0.9"/>
<g fill="#4d4d4d" shape-rendering="crispEdges"><rect x="278" y="1" width="1" height="14"/><rect x="276" y="12" width="14" height="1"/></g><path d="M276.5 3.6L278.5 0.8L280.5 3.6Z M287.6 10.5L290.4 12.5L287.6 14.5Z" fill="#4d4d4d"/>
<path d="M277.3 9.7C280 8.2 281.3 4.4 283.2 4.4C285 4.4 286.6 7.4 288.9 8.2" stroke="#1f8f1f" stroke-width="1.1" fill="none"/>
<rect x="299" y="0" width="1" height="17" fill="#a0a0a0" shape-rendering="crispEdges"/>
<path d="M317.6 9.6L322.8 13.9" stroke="#a8780c" stroke-width="3.4"/><path d="M317.9 9.9L322.5 13.6" stroke="#ecd23c" stroke-width="2"/><circle cx="314" cy="5" r="5.6" fill="url(#lens)" stroke="#3576c4" stroke-width="1.1"/>
<path d="M310.8 5H317.2M314 1.8V8.2" stroke="#3f84ad" stroke-width="1.8"/>
<path d="M345.70000000000005 9.6L350.90000000000003 13.9" stroke="#a8780c" stroke-width="3.4"/><path d="M346.0 9.9L350.6 13.6" stroke="#ecd23c" stroke-width="2"/><circle cx="342.1" cy="5" r="5.6" fill="url(#lens)" stroke="#3576c4" stroke-width="1.1"/>
<path d="M338.90000000000003 5H345.3" stroke="#3f84ad" stroke-width="1.8"/>
<rect x="364.2" y="-0.5" width="7.8" height="7.5" fill="#2e8a12"/><rect x="364.2" y="-0.5" width="7.8" height="3.2" fill="#52b52c"/><path d="M365.5 6.4V2.5H370.7V6.4H369.4V5.5H366.8V6.4Z" fill="#f8fbff"/><path d="M366.8 4.1H369.4" stroke="#9ad77e" stroke-width="0.9"/><rect x="365.0" y="0.4" width="0.9" height="0.9" fill="#9ad77e"/>
<rect x="372" y="-0.5" width="7.8" height="7.5" fill="#1740b4"/><rect x="372" y="-0.5" width="7.8" height="3.2" fill="#3b6fe0"/><path d="M373.3 6.4V2.5H378.5V6.4H377.2V5.5H374.6V6.4Z" fill="#f8fbff"/><path d="M374.6 4.1H377.2" stroke="#9db7f2" stroke-width="0.9"/><rect x="372.8" y="0.4" width="0.9" height="0.9" fill="#9db7f2"/>
<rect x="364.2" y="7.3" width="7.8" height="7.5" fill="#1740b4"/><rect x="364.2" y="7.3" width="7.8" height="3.2" fill="#3b6fe0"/><path d="M365.5 14.2V10.3H370.7V14.2H369.4V13.3H366.8V14.2Z" fill="#f8fbff"/><path d="M366.8 11.899999999999999H369.4" stroke="#9db7f2" stroke-width="0.9"/><rect x="365.0" y="8.2" width="0.9" height="0.9" fill="#9db7f2"/>
<rect x="372" y="7.3" width="7.8" height="7.5" fill="#2e8a12"/><rect x="372" y="7.3" width="7.8" height="3.2" fill="#52b52c"/><path d="M373.3 14.2V10.3H378.5V14.2H377.2V13.3H374.6V14.2Z" fill="#f8fbff"/><path d="M374.6 11.899999999999999H377.2" stroke="#9ad77e" stroke-width="0.9"/><rect x="372.8" y="8.2" width="0.9" height="0.9" fill="#9ad77e"/>
<rect x="389" y="0" width="1" height="17" fill="#a0a0a0" shape-rendering="crispEdges"/>
<rect x="394" y="0" width="25" height="17" fill="#f8f8f8" shape-rendering="crispEdges"/><rect x="394" y="0" width="1" height="17" fill="#8a8a8a" shape-rendering="crispEdges"/><rect x="394" y="16" width="25" height="1" fill="#ffffff" shape-rendering="crispEdges"/>
<g fill="#4d4d4d" shape-rendering="crispEdges"><rect x="402" y="1" width="1" height="14"/><rect x="400" y="12" width="14" height="1"/></g><path d="M400.5 3.6L402.5 0.8L404.5 3.6Z M411.6 10.5L414.4 12.5L411.6 14.5Z" fill="#4d4d4d"/>
<path d="M407.4 3.2L411 6.5L407.4 9.8Z" fill="#66dd66" stroke="#0c8a0c" stroke-width="0.9"/>
<rect x="422" y="0" width="25" height="17" fill="#f8f8f8" shape-rendering="crispEdges"/><rect x="422" y="0" width="1" height="17" fill="#8a8a8a" shape-rendering="crispEdges"/><rect x="422" y="16" width="25" height="1" fill="#ffffff" shape-rendering="crispEdges"/>
<g fill="#4d4d4d" shape-rendering="crispEdges"><rect x="430" y="1" width="1" height="14"/><rect x="428" y="12" width="14" height="1"/></g><path d="M428.5 3.6L430.5 0.8L432.5 3.6Z M439.6 10.5L442.4 12.5L439.6 14.5Z" fill="#4d4d4d"/>
<path d="M436.5 1.2V10.9" stroke="#0f6fb0" stroke-width="1.2"/><path d="M437.6 6.4L440.2 4.2V5.8H442V7H440.2V8.6Z" fill="#d64200"/>
<rect x="451" y="0" width="1" height="17" fill="#a0a0a0" shape-rendering="crispEdges"/>
<path d="M461.5 -0.5H470L472.6 2V12.2H461.5Z" fill="#fbfbfb" stroke="#9a9a9a" stroke-width="0.8"/><path d="M465.6 2.4C464.2 2 463.6 3 463.6 4.4V9.6M462.6 5.6H465.2" stroke="#6b4a1e" stroke-width="0.9" fill="none"/><path d="M469.9 5.5H473V9.5H476.9V12.6H473V16.7H469.9V12.6H465.8V9.5H469.9Z" fill="url(#gp)" stroke="#0a7d0a" stroke-width="0.9"/>
<path d="M482.7 6H488.3L485.5 9.2Z" fill="#000"/>
<defs><linearGradient id="ck" x1="0" y1="0" x2="0.6" y2="1"><stop offset="0" stop-color="#3a8cf0"/><stop offset="1" stop-color="#0a469e"/></linearGradient></defs><circle cx="507.05" cy="6.95" r="6.65" fill="#eff1f4" stroke="url(#ck)" stroke-width="2.4"/><circle cx="507.05" cy="6.95" r="4.6" fill="none" stroke="#8d949e" stroke-width="0.9" stroke-dasharray="0.6 1.81"/><path d="M506.5 3.2V7.1L509.6 7.6" stroke="#1c1c1c" stroke-width="1.1" fill="none"/><path d="M506.2 9.4H508" stroke="#5aa0ee" stroke-width="0.8"/>
<path d="M521.9 6H527.5L524.6999999999999 9.2Z" fill="#000"/>
<rect x="538.3" y="-0.5" width="15.9" height="14.4" rx="0.8" fill="#3572c4"/><rect x="538.3" y="-0.5" width="15.9" height="2.4" fill="#2b63b6"/><rect x="539.4" y="0.9" width="7" height="0.9" fill="#9cc2f0"/><rect x="539.3" y="2.7" width="13.9" height="4.9" fill="#fff"/><rect x="539.3" y="9" width="13.9" height="4" fill="#fff"/><path d="M540.3 6.3H541.8L543.3 5.2H544.6L545.9 4.4H546.8L548 5.4H549.4L550.8 4.4H552" stroke="#9a1c00" stroke-width="1.05" fill="none"/><path d="M541.2 11.6H542.4L543.4 10.8L545 11.6L546.2 11.4L548.2 9.8L549.2 9.9L551.4 11.8" stroke="#0c8a0c" stroke-width="1.05" fill="none"/>
<path d="M560.8 6H566.4L563.5999999999999 9.2Z" fill="#000"/>
<rect x="572" y="0" width="1" height="19" fill="#8f8f8f" shape-rendering="crispEdges"/><rect x="573" y="0" width="1" height="19" fill="#ffffff" shape-rendering="crispEdges"/>
<rect x="576" y="1" width="3" height="1" fill="#a6a6a6" shape-rendering="crispEdges"/>
<rect x="576" y="3" width="3" height="1" fill="#a6a6a6" shape-rendering="crispEdges"/>
<rect x="576" y="5" width="3" height="1" fill="#a6a6a6" shape-rendering="crispEdges"/>
<rect x="576" y="7" width="3" height="1" fill="#a6a6a6" shape-rendering="crispEdges"/>
<rect x="576" y="9" width="3" height="1" fill="#a6a6a6" shape-rendering="crispEdges"/>
<rect x="576" y="11" width="3" height="1" fill="#a6a6a6" shape-rendering="crispEdges"/>
<rect x="576" y="13" width="3" height="1" fill="#a6a6a6" shape-rendering="crispEdges"/>
<rect x="576" y="15" width="3" height="1" fill="#a6a6a6" shape-rendering="crispEdges"/>
<rect x="582" y="0" width="26" height="17" fill="#f8f8f8" shape-rendering="crispEdges"/><rect x="582" y="0" width="1" height="17" fill="#8a8a8a" shape-rendering="crispEdges"/><rect x="582" y="16" width="26" height="1" fill="#ffffff" shape-rendering="crispEdges"/>
<path d="M589.8 0V12.2L592.6 9.6L594.7 14L596.4 13.2L594.4 8.9H598.2Z" fill="#454545"/>
<g fill="#4d4d4d" shape-rendering="crispEdges"><rect x="622" y="0" width="1" height="6"/><rect x="622" y="9" width="1" height="6"/><rect x="615" y="7" width="6" height="1"/><rect x="624" y="7" width="6" height="1"/><rect x="622" y="7" width="1" height="1"/></g>
<rect x="639" y="0" width="1" height="17" fill="#a0a0a0" shape-rendering="crispEdges"/>
<g fill="#4d4d4d" shape-rendering="crispEdges"><rect x="656" y="1" width="1" height="13"/><rect x="679" y="7" width="12" height="1"/></g>
<path d="M706.8 13.8L719.2 1.8" stroke="#4d4d4d" stroke-width="1.1"/>
<g stroke="#444" stroke-width="1" fill="none"><path d="M733 8.9L745.1 0M733.9 11.3L746.5 1.9M734.8 13.8L747.5 4.6"/><path d="M735.8 5.2L737.4 13M738.6 3.2L740.2 10.8M741.4 1.2L743 8.6M744.2 -0.6L745.6 6.6" stroke-width="0.9"/></g>
<rect x="743" y="10.4" width="5.6" height="5.6" fill="#f0f0f0"/>
<text x="743.6" y="15.7" font-family="Liberation Sans,sans-serif" font-weight="bold" font-size="6.6" fill="#333">E</text>
<path d="M762 0.5H775.5" stroke="#4d4d4d" stroke-width="1" stroke-dasharray="1 1" shape-rendering="crispEdges"/>
<path d="M762 3.5H775.5" stroke="#4d4d4d" stroke-width="1" stroke-dasharray="1 1" shape-rendering="crispEdges"/>
<path d="M762 7.5H775.5" stroke="#4d4d4d" stroke-width="1" stroke-dasharray="1 1" shape-rendering="crispEdges"/>
<path d="M762 11.5H775.5" stroke="#4d4d4d" stroke-width="1" stroke-dasharray="1 1" shape-rendering="crispEdges"/>
<rect x="770.6" y="10" width="6" height="6" fill="#f0f0f0"/><text x="771.8" y="15.7" font-family="Liberation Sans,sans-serif" font-weight="bold" font-size="6.6" fill="#333">F</text>
<text x="792.8" y="12" font-family="Liberation Sans,sans-serif" font-size="11.4" fill="#4d4d4d" stroke="#4d4d4d" stroke-width="0.4">A</text>
<rect x="819.5" y="1.5" width="11" height="12" fill="none" stroke="#4d4d4d" stroke-width="1" stroke-dasharray="1 1" shape-rendering="crispEdges"/><text x="821.2" y="12" font-family="Liberation Sans,sans-serif" font-size="12" fill="#4d4d4d" stroke="#4d4d4d" stroke-width="0.35">T</text><rect x="819" y="0" width="2" height="1" fill="#4d4d4d"/>
<path d="M846.2 3.4L849.6 0.6L853 3.4L849.6 5.4Z M853.2 10.8L856.6 8.6L860.2 10.8L856.6 13.8Z" fill="#404040"/><path d="M848 7L850.4 9.4L855.4 4" stroke="#404040" stroke-width="1.3" fill="none"/>
<path d="M866.9 6H872.5L869.6999999999999 9.2Z" fill="#000"/>
<rect x="878" y="0" width="1" height="19" fill="#8f8f8f" shape-rendering="crispEdges"/><rect x="879" y="0" width="1" height="19" fill="#ffffff" shape-rendering="crispEdges"/>
<rect x="882" y="1" width="3" height="1" fill="#a6a6a6" shape-rendering="crispEdges"/>
<rect x="882" y="3" width="3" height="1" fill="#a6a6a6" shape-rendering="crispEdges"/>
<rect x="882" y="5" width="3" height="1" fill="#a6a6a6" shape-rendering="crispEdges"/>
<rect x="882" y="7" width="3" height="1" fill="#a6a6a6" shape-rendering="crispEdges"/>
<rect x="882" y="9" width="3" height="1" fill="#a6a6a6" shape-rendering="crispEdges"/>
<rect x="882" y="11" width="3" height="1" fill="#a6a6a6" shape-rendering="crispEdges"/>
<rect x="882" y="13" width="3" height="1" fill="#a6a6a6" shape-rendering="crispEdges"/>
<rect x="882" y="15" width="3" height="1" fill="#a6a6a6" shape-rendering="crispEdges"/>
<rect x="1028" y="0" width="25" height="17" fill="#f8f8f8" shape-rendering="crispEdges"/><rect x="1028" y="0" width="1" height="17" fill="#8a8a8a" shape-rendering="crispEdges"/><rect x="1028" y="16" width="25" height="1" fill="#ffffff" shape-rendering="crispEdges"/>
<text x="892.8" y="10.9" font-family="Liberation Sans,sans-serif" font-size="10" text-rendering="geometricPrecision" fill="#3c3c3c">M1</text>
<text x="921" y="10.9" font-family="Liberation Sans,sans-serif" font-size="10" text-rendering="geometricPrecision" fill="#3c3c3c">M5</text>
<text x="946.8" y="10.9" font-family="Liberation Sans,sans-serif" font-size="10" text-rendering="geometricPrecision" fill="#3c3c3c">M15</text>
<text x="975" y="10.9" font-family="Liberation Sans,sans-serif" font-size="10" text-rendering="geometricPrecision" fill="#3c3c3c">M30</text>
<text x="1005.6" y="10.9" font-family="Liberation Sans,sans-serif" font-size="10" text-rendering="geometricPrecision" fill="#3c3c3c">H1</text>
<text x="1033.2" y="10.9" font-family="Liberation Sans,sans-serif" font-size="10" text-rendering="geometricPrecision" fill="#3c3c3c">H4</text>
<text x="1062.2" y="10.9" font-family="Liberation Sans,sans-serif" font-size="10" text-rendering="geometricPrecision" fill="#3c3c3c">D1</text>
<text x="1090" y="10.9" font-family="Liberation Sans,sans-serif" font-size="10" text-rendering="geometricPrecision" fill="#3c3c3c">W1</text>
<text x="1116.4" y="10.9" font-family="Liberation Sans,sans-serif" font-size="10" text-rendering="geometricPrecision" fill="#3c3c3c">MN</text>
<rect x="1139" y="0" width="1" height="19" fill="#a0a0a0" shape-rendering="crispEdges"/>
<path d="M1605.8 8L1602 12.2" stroke="#2461d8" stroke-width="2.6" stroke-linecap="round"/><circle cx="1609.7" cy="4.4" r="3.9" fill="#eef1fb" stroke="#2a62d4" stroke-width="1.2"/>
<path d="M1626.4 8.4C1626.4 5.6 1629 4 1632 4C1635.4 4 1637.6 5.8 1637.6 8.4C1637.6 11 1635 12.6 1631.4 12.6L1628.6 14.6L1629 12.2C1627.4 11.4 1626.4 10 1626.4 8.4Z" fill="#e9e9f1" stroke="#a9a9a9" stroke-width="0.8"/><circle cx="1640.4" cy="4.6" r="8.2" fill="url(#rd)"/><text x="1636.2" y="8.9" font-family="Liberation Serif,serif" font-weight="bold" font-size="13" fill="#fff">1</text>
</svg>
</body></html>
